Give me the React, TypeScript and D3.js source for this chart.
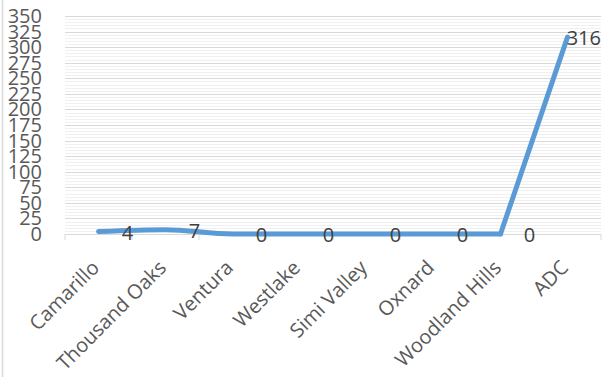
import React from "react";
import * as d3 from "d3";

const categories = ["Camarillo", "Thousand Oaks", "Ventura", "Westlake", "Simi Valley", "Oxnard", "Woodland Hills", "ADC"];
const values = [4, 7, 0, 0, 0, 0, 0, 316];
const yTicks = [0, 25, 50, 75, 100, 125, 150, 175, 200, 225, 250, 275, 300, 325, 350];

const W = 604;
const H = 377;
const FONT = "'Open Sans', sans-serif";

export default function App() {
  const x = d3.scaleBand<string>().domain(categories).range([65, 601]);
  const y = d3.scaleLinear().domain([0, 350]).range([234, 16]);
  const minorTicks = d3.range(0, 351, 5).filter((v) => v % 25 !== 0);
  const cx = (c: string) => (x(c) as number) + x.bandwidth() / 2;
  const pts: [number, number][] = values.map((v, i) => [cx(categories[i]), y(v)]);
  const n = pts.length;
  const smooth = d3.line().curve(d3.curveMonotoneX)(pts.slice(0, n - 1)) || "";
  const last = d3.line()(pts.slice(n - 2)) || "";
  const boundaries = categories.map((c) => x(c) as number).concat([601]);

  return (
    <svg width={W} height={H} style={{ position: "absolute", left: 0, top: 0, background: "#fff" }}>
      <line x1={2.5} x2={2.5} y1={0} y2={H} stroke="#d9d9d9" strokeWidth={1.5} />
      {minorTicks.map((t) => (
        <line key={"m" + t} x1={65} x2={601} y1={Math.round(y(t)) + 0.5} y2={Math.round(y(t)) + 0.5} stroke="#f0f0f0" strokeWidth={1} />
      ))}
      {yTicks.map((t) => (
        <line key={"g" + t} x1={65} x2={601} y1={Math.round(y(t)) + 0.5} y2={Math.round(y(t)) + 0.5} stroke="#d9d9d9" strokeWidth={1} />
      ))}
      {boundaries.map((b, i) => (
        <line key={"t" + i} x1={b} x2={b} y1={234} y2={240} stroke="#d9d9d9" strokeWidth={1} />
      ))}
      {yTicks.map((t) => (
        <text key={"y" + t} x={42} y={y(t)} dy="0.35em" textAnchor="end" fontFamily={FONT} fontSize={20} fill="#595959">
          {t}
        </text>
      ))}
      {categories.map((c) => (
        <text
          key={c}
          transform={`translate(${cx(c) - 3},${264}) rotate(-45)`}
          dy="0.35em"
          textAnchor="end"
          fontFamily={FONT}
          fontSize={20}
          fill="#595959"
        >
          {c}
        </text>
      ))}
      <path d={smooth} fill="none" stroke="#5b9bd5" strokeWidth={5} strokeLinecap="round" strokeLinejoin="round" />
      <path d={last} fill="none" stroke="#5b9bd5" strokeWidth={5} strokeLinecap="round" strokeLinejoin="round" />
      {values.map((v, i) => {
        const px = cx(categories[i]) + 29;
        const overflow = px + 18 > 601;
        return (
          <text
            key={"l" + i}
            x={overflow ? 601 : px}
            y={y(v) + 1}
            dy="0.35em"
            textAnchor={overflow ? "end" : "middle"}
            fontFamily={FONT}
            fontSize={20}
            fill="#404040"
          >
            {v}
          </text>
        );
      })}
    </svg>
  );
}
